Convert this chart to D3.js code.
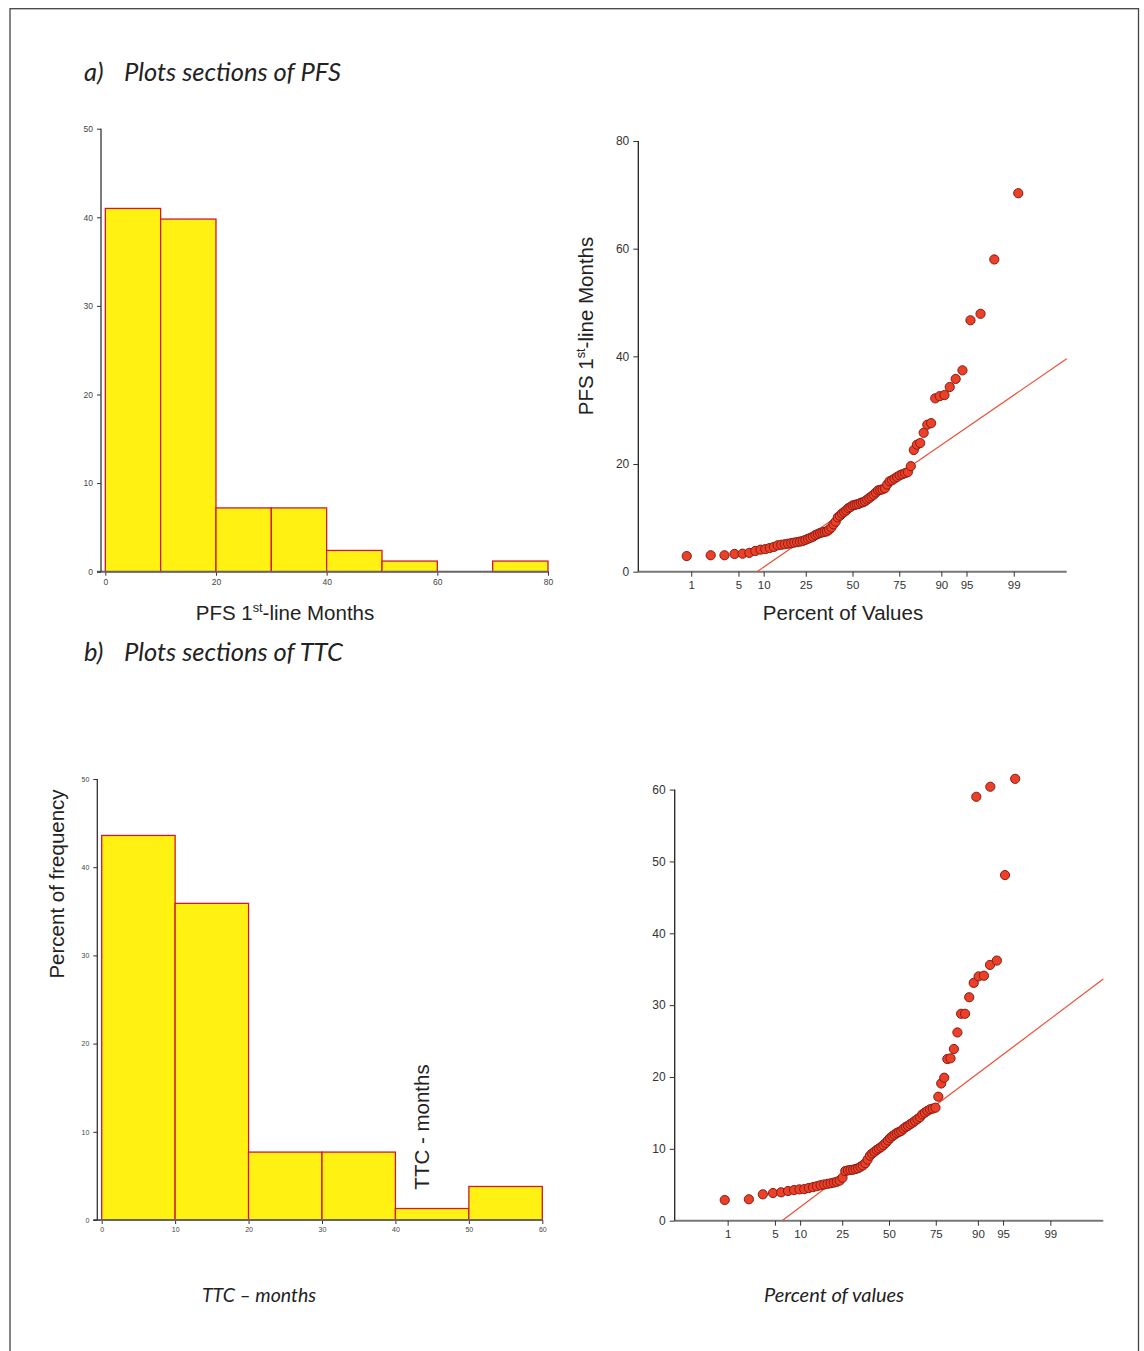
<!DOCTYPE html>
<html>
<head>
<meta charset="utf-8">
<script src="https://cdn.jsdelivr.net/npm/d3@7"></script>
<style>
html,body{margin:0;padding:0;background:#fff;}
svg{display:block;}
</style>
</head>
<body>
<svg id="chart" width="1144" height="1351"></svg>
<script>
// ---------- DATA ----------
const pfsBinEdges = [0, 10, 20, 30, 40, 50, 60, 70, 80];
const pfsPercent  = [41.0, 39.8, 7.2, 7.2, 2.4, 1.2, 0, 1.2];
const pfsXTicks = [0, 20, 40, 60, 80];
const pfsYTicks = [0, 10, 20, 30, 40, 50];

const ttcBinEdges = [0, 10, 20, 30, 40, 50, 60];
const ttcPercent  = [43.6, 35.9, 7.7, 7.7, 1.3, 3.8];
const ttcXTicks = [0, 10, 20, 30, 40, 50, 60];
const ttcYTicks = [0, 10, 20, 30, 40, 50];

// PFS 1st-line months, in plotted (rank) order, n = 83
const pfsValues = [
  2.9, 3.05, 3.05, 3.3, 3.35, 3.5, 3.85, 4.1, 4.2, 4.4,
  4.6, 4.9, 5.0, 5.1, 5.2, 5.3, 5.4, 5.5, 5.6, 5.7,
  5.9, 6.1, 6.3, 6.5, 6.8, 7.0, 7.2, 7.3, 7.4, 7.5,
  7.8, 8.2, 8.8, 9.3, 10.1, 10.4, 10.8, 11.1, 11.4, 11.8,
  12.0, 12.3, 12.4, 12.5, 12.6, 12.8, 12.9, 13.1, 13.4, 13.7,
  14.0, 14.3, 14.7, 15.1, 15.2, 15.3, 15.5, 16.2, 16.8, 17.0,
  17.3, 17.6, 17.9, 18.1, 18.3, 18.5, 19.6, 22.6, 23.6, 23.9,
  25.8, 27.3, 27.6, 32.2, 32.6, 32.8, 34.3, 35.8, 37.4, 46.7,
  47.9, 58.0, 70.3
];
const pfsN = 83;
const pfsRefMean = 12.2, pfsRefSd = 8.85;
const pfsYTicksQ = [0, 20, 40, 60, 80];

// TTC months, in plotted (rank) order, n = 78
const ttcValues = [
  2.88, 2.98, 3.67, 3.85, 3.95, 4.13, 4.26, 4.36, 4.40, 4.55,
  4.67, 4.80, 4.94, 5.04, 5.13, 5.21, 5.30, 5.42, 5.58, 5.98,
  6.9, 7.0, 7.06, 7.1, 7.2, 7.3, 7.5, 7.7, 8.0, 8.5,
  9.05, 9.35, 9.6, 9.85, 10.05, 10.27, 10.53, 10.83, 11.17, 11.5,
  11.75, 11.98, 12.2, 12.35, 12.5, 12.8, 13.05, 13.2, 13.45, 13.65,
  13.9, 14.15, 14.4, 14.8, 15.05, 15.3, 15.5, 15.6, 15.73, 17.26,
  19.1, 19.9, 22.5, 22.6, 23.9, 26.2, 28.8, 28.8, 31.1, 33.1,
  34.0, 34.1, 35.6, 36.2, 48.1, 61.5
];
// two points plotted off the rank sequence
const ttcExtraPct = [89.6, 92.8];
const ttcExtraVal = [59.0, 60.4];
const ttcN = 78;
const ttcRefMean = 11.2, ttcRefSd = 7.26;
const ttcYTicksQ = [0, 10, 20, 30, 40, 50, 60];

const percentTicks = [1, 5, 10, 25, 50, 75, 90, 95, 99];

// ---------- helpers ----------
// inverse standard normal CDF (Acklam)
function probit(p) {
  const a = [-3.969683028665376e+01, 2.209460984245205e+02, -2.759285104469687e+02, 1.383577518672690e+02, -3.066479806614716e+01, 2.506628277459239e+00];
  const b = [-5.447609879822406e+01, 1.615858368580409e+02, -1.556989798598866e+02, 6.680131188771972e+01, -1.328068155288572e+01];
  const c = [-7.784894002430293e-03, -3.223964580411365e-01, -2.400758277161838e+00, -2.549732539343734e+00, 4.374664141464968e+00, 2.938163982698783e+00];
  const d = [7.784695709041462e-03, 3.224671290700398e-01, 2.445134137142996e+00, 3.754408661907416e+00];
  const pl = 0.02425, ph = 1 - pl;
  let q, r;
  if (p < pl) {
    q = Math.sqrt(-2 * Math.log(p));
    return (((((c[0]*q+c[1])*q+c[2])*q+c[3])*q+c[4])*q+c[5]) / ((((d[0]*q+d[1])*q+d[2])*q+d[3])*q+1);
  } else if (p <= ph) {
    q = p - 0.5; r = q*q;
    return (((((a[0]*r+a[1])*r+a[2])*r+a[3])*r+a[4])*r+a[5])*q / (((((b[0]*r+b[1])*r+b[2])*r+b[3])*r+b[4])*r+1);
  } else {
    q = Math.sqrt(-2 * Math.log(1 - p));
    return -(((((c[0]*q+c[1])*q+c[2])*q+c[3])*q+c[4])*q+c[5]) / ((((d[0]*q+d[1])*q+d[2])*q+d[3])*q+1);
  }
}
const rankPos = (i, n) => (i + 1 - 0.3) / (n + 0.4);

const svg = d3.select("#chart");
const SANS = "'Liberation Sans', Arial, sans-serif";
const TITLEF = "Lato, 'Open Sans', sans-serif";

// page border
svg.append("rect").attr("x", 10).attr("y", 8.7).attr("width", 1128.5).attr("height", 1360)
  .attr("fill", "none").attr("stroke", "#444").attr("stroke-width", 1.3);

// section titles
function sectionTitle(y, letter, txt) {
  const t = svg.append("text").attr("y", y).attr("font-family", TITLEF)
    .attr("font-style", "italic").attr("font-size", 25.5).attr("fill", "#222");
  t.append("tspan").attr("x", 84).text(letter);
  t.append("tspan").attr("x", 124).text(txt);
}
sectionTitle(81, "a)", "Plots sections of PFS");
sectionTitle(661, "b)", "Plots sections of TTC");

// ---------- histogram ----------
function histogram(cfg) {
  const x = d3.scaleLinear().domain(cfg.xDomain).range(cfg.xRange);
  const y = d3.scaleLinear().domain(cfg.yDomain).range(cfg.yRange);
  const g = svg.append("g");
  const bins = cfg.pct.map((p, i) => ({x0: cfg.edges[i], x1: cfg.edges[i + 1], p}))
    .filter(d => d.p > 0);
  g.selectAll("rect.bar").data(bins).join("rect").attr("class", "bar")
    .attr("x", d => x(d.x0)).attr("width", d => x(d.x1) - x(d.x0))
    .attr("y", d => y(d.p)).attr("height", d => y(0) - y(d.p))
    .attr("fill", "#fff212").attr("stroke", "#d0182e").attr("stroke-width", 1.3);
  // x axis
  const xa = d3.axisBottom(x).tickValues(cfg.xTicks).tickSize(4).tickPadding(3);
  const gx = g.append("g").attr("transform", `translate(0,${y(0)})`).call(xa);
  gx.select(".domain").remove();
  gx.append("line").attr("x1", cfg.yAxisX - 4).attr("x2", x.range()[1]).attr("stroke", "#666").attr("stroke-width", 2);
  gx.selectAll(".tick line").attr("stroke", "#333");
  gx.selectAll("text").attr("font-family", SANS).attr("font-size", cfg.tickFont).attr("fill", "#444");
  // y axis
  const ya = d3.axisLeft(y).tickValues(cfg.yTicks).tickSize(4).tickPadding(4);
  const gy = g.append("g").attr("transform", `translate(${cfg.yAxisX},0)`).call(ya);
  gy.select(".domain").attr("stroke", "#333").attr("stroke-width", 1.3).attr("d", `M0,${y.range()[1]}V${y.range()[0]}`);
  gy.selectAll(".tick line").attr("stroke", "#333");
  gy.selectAll("text").attr("font-family", SANS).attr("font-size", cfg.tickFont).attr("fill", "#444");
}

histogram({edges: pfsBinEdges, pct: pfsPercent, xDomain: [0, 80], xRange: [105.3, 548],
  yDomain: [0, 50], yRange: [571.7, 128.7], xTicks: pfsXTicks, yTicks: pfsYTicks, yAxisX: 101, tickFont: 8.5});
histogram({edges: ttcBinEdges, pct: ttcPercent, xDomain: [0, 60], xRange: [101.7, 542.3],
  yDomain: [0, 50], yRange: [1220, 779], xTicks: ttcXTicks, yTicks: ttcYTicks, yAxisX: 97.3, tickFont: 7});

// ---------- normal probability plot ----------
function probPlot(cfg) {
  const x = d3.scaleLinear().domain([-3.09, 3.09]).range(cfg.xRange);
  const y = d3.scaleLinear().domain(cfg.yDomain).range(cfg.yRange);
  const g = svg.append("g");
  // x axis
  const xa = d3.axisBottom(x).tickValues(percentTicks.map(p => probit(p / 100)))
    .tickFormat((d, i) => percentTicks[i]).tickSize(5).tickPadding(4);
  const gx = g.append("g").attr("transform", `translate(0,${y(0)})`).call(xa);
  gx.select(".domain").attr("stroke", "#777").attr("stroke-width", 2).attr("d", `M${x.range()[0]},0H${x.range()[1]}`);
  gx.selectAll(".tick line").attr("stroke", "#333");
  gx.selectAll("text").attr("font-family", SANS).attr("font-size", 11.5).attr("fill", "#333");
  // y axis
  const ya = d3.axisLeft(y).tickValues(cfg.yTicks).tickSize(5).tickPadding(4);
  const gy = g.append("g").attr("transform", `translate(${x.range()[0]},0)`).call(ya);
  gy.select(".domain").attr("stroke", "#222").attr("stroke-width", 1.3).attr("d", `M0,${y.range()[1]}V${y.range()[0]}`);
  gy.selectAll(".tick line").attr("stroke", "#333");
  gy.selectAll("text").attr("font-family", SANS).attr("font-size", 12).attr("fill", "#333");
  // reference line (clipped at value 0 and right edge)
  const z0 = -cfg.mean / cfg.sd, z1 = 3.09;
  g.append("line")
    .attr("x1", x(z0)).attr("y1", y(cfg.mean + cfg.sd * z0))
    .attr("x2", x(z1)).attr("y2", y(cfg.mean + cfg.sd * z1))
    .attr("stroke", "#f04a30").attr("stroke-width", 1.1);
  // points
  const pts = cfg.values.map((v, i) => ({z: probit(rankPos(i, cfg.n)), v}));
  if (cfg.extraPct) cfg.extraPct.forEach((p, i) => pts.push({z: probit(p / 100), v: cfg.extraVal[i]}));
  g.selectAll("circle").data(pts).join("circle")
    .attr("cx", d => x(d.z)).attr("cy", d => y(d.v)).attr("r", 4.6)
    .attr("fill", "#ea4128").attr("stroke", "#8e1a12").attr("stroke-width", 1);
}

probPlot({values: pfsValues, n: pfsN, mean: pfsRefMean, sd: pfsRefSd,
  xRange: [638.3, 1066.7], yDomain: [0, 80], yRange: [571.7, 141], yTicks: pfsYTicksQ});
probPlot({values: ttcValues, n: ttcN, mean: ttcRefMean, sd: ttcRefSd, extraPct: ttcExtraPct, extraVal: ttcExtraVal,
  xRange: [674.7, 1103.3], yDomain: [0, 60], yRange: [1220.7, 789.6], yTicks: ttcYTicksQ});

// ---------- axis titles ----------
function supLabel(x, y, rotate, pre, sup, post, size) {
  const t = svg.append("text").attr("font-family", SANS).attr("font-size", size).attr("fill", "#222")
    .attr("text-anchor", "middle")
    .attr("transform", `translate(${x},${y})` + (rotate ? " rotate(-90)" : ""));
  t.append("tspan").text(pre);
  if (sup) {
    t.append("tspan").attr("font-size", size * 0.62).attr("dy", -size * 0.38).text(sup);
    t.append("tspan").attr("dy", size * 0.38).text(post);
  }
  return t;
}
supLabel(285, 620, false, "PFS 1", "st", "-line Months", 20.5);
supLabel(843, 620, false, "Percent of Values", null, null, 20.5);
supLabel(593, 326, true, "PFS 1", "st", "-line Months", 20.5);
supLabel(64, 884, true, "Percent of frequency", null, null, 20.5);
supLabel(429, 1127, true, "TTC - months", null, null, 20.5);

svg.append("text").attr("x", 259).attr("y", 1302).attr("text-anchor", "middle")
  .attr("font-family", TITLEF).attr("font-style", "italic").attr("font-size", 19.5).attr("fill", "#222")
  .text("TTC – months");
svg.append("text").attr("x", 834).attr("y", 1302).attr("text-anchor", "middle")
  .attr("font-family", TITLEF).attr("font-style", "italic").attr("font-size", 20).attr("fill", "#222")
  .text("Percent of values");
</script>
</body>
</html>
